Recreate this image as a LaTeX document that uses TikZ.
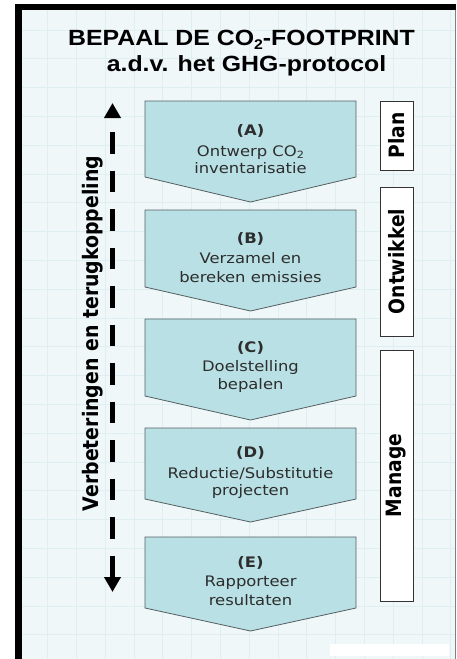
\documentclass[tikz,border=0pt]{standalone}
\usepackage{fontspec}
\usepackage{graphicx}
\setmainfont{DejaVu Sans}[FakeStretch=1.13]
\newfontfamily\titlefont{Liberation Sans}[FakeStretch=1.13]
\newfontfamily\labelfont{DejaVu Sans}
\usetikzlibrary{arrows.meta}
\definecolor{bgc}{RGB}{239,247,249}
\definecolor{gridc}{RGB}{222,238,242}
\definecolor{boxfill}{RGB}{185,224,228}
\definecolor{boxline}{RGB}{85,95,98}
\definecolor{txtc}{RGB}{45,45,45}
\newcommand{\subtwo}[1]{\raisebox{-0.35ex}{\fontsize{#1}{#1}\selectfont 2}}
\begin{document}
\begin{tikzpicture}[x=1pt,y=-1pt,
  stepshape/.style={fill=boxfill,draw=boxline,line width=0.8pt,line join=miter},
  boxtxt/.style={anchor=base,inner sep=0pt,text=txtc,font=\fontsize{14.5}{17}\selectfont},
  boxhead/.style={anchor=base,inner sep=0pt,text=txtc,font=\bfseries\fontsize{14.5}{17}\selectfont},
  phasebox/.style={draw=black!80,fill=white,line width=0.9pt,rotate=90,inner sep=0pt,minimum height=33pt,
    font=\labelfont\bfseries\fontsize{18.7}{20}\selectfont},
  titletxt/.style={anchor=base,inner sep=0pt,font=\titlefont\bfseries\fontsize{22}{26}\selectfont}]
\useasboundingbox (0,0) rectangle (456,659);
\fill[white] (0,0) rectangle (456,659);
\fill[bgc] (22,10) rectangle (455,659);
% grid
\foreach \k in {1,...,15} {\draw[gridc,line width=0.5pt] ({18.7+28.8*\k},10) -- ({18.7+28.8*\k},659);}
\foreach \k in {1,...,22} {\draw[gridc,line width=0.5pt] (22,{1+28.8*\k}) -- (455,{1+28.8*\k});}
% frame
\fill[black] (15,4) rectangle (22,659);
\fill[black] (15,4) rectangle (456,10);
\draw[gray,line width=0.8pt] (455,10) -- (455,659);
\fill[white] (330,644) rectangle (449,656);
% title
\node[titletxt] (t1) at (241.5,45) {BEPAAL DE CO\subtwo{14}-FOOTPRINT};
\node[titletxt] (t2) at (246.5,71) {a.d.v. het GHG-protocol};
% steps
\path[stepshape] (145,101) -- (356,101) -- (356,177) -- (250.5,202) -- (145,177) -- cycle;
\path[stepshape] (145,210) -- (356,210) -- (356,287) -- (250.5,311) -- (145,287) -- cycle;
\path[stepshape] (145,319) -- (356,319) -- (356,396) -- (250.5,420) -- (145,396) -- cycle;
\path[stepshape] (145,428) -- (356,428) -- (356,499) -- (250.5,522) -- (145,499) -- cycle;
\path[stepshape] (145,537) -- (356,537) -- (356,608) -- (250.5,631) -- (145,608) -- cycle;
\node[boxhead] (a0) at (250.5,135) {(A)};
\node[boxtxt] (a1) at (250.5,156) {Ontwerp CO\subtwo{10}};
\node[boxtxt] (a2) at (250.5,173) {inventarisatie};
\node[boxhead] (b0) at (250.5,243) {(B)};
\node[boxtxt] (b1) at (250.5,263) {Verzamel en};
\node[boxtxt] (b2) at (250.5,282) {bereken emissies};
\node[boxhead] (c0) at (250.5,352) {(C)};
\node[boxtxt] (c1) at (250.5,371) {Doelstelling};
\node[boxtxt] (c2) at (250.5,389.5) {bepalen};
\node[boxhead] (d0) at (250.5,457) {(D)};
\node[boxtxt] (d1) at (250.5,478) {Reductie/Substitutie};
\node[boxtxt] (d2) at (250.5,495.5) {projecten};
\node[boxhead] (e0) at (250.5,567) {(E)};
\node[boxtxt] (e1) at (250.5,586.5) {Rapporteer};
\node[boxtxt] (e2) at (250.5,605.5) {resultaten};
% phase labels
\node[phasebox,minimum width=69pt] (plan) at (396.5,135.5) {\scalebox{1}[1.13]{Plan}};
\node[phasebox,minimum width=149pt] (ontw) at (396.5,261.5) {\scalebox{1}[1.13]{Ontwikkel}};
\node[phasebox,minimum width=251pt] (manage) at (396.5,475.5) {\scalebox{1}[1.13]{Manage}};
% feedback arrow
\coordinate (fbtop) at (112.5,103);
\coordinate (fbbot) at (112.5,592);
\draw[line width=5.5pt,dash pattern=on 21.5pt off 17pt,dash phase=23.5pt,
  {Triangle[width=16pt,length=15pt]}-{Triangle[width=16pt,length=15pt]}] (fbtop) -- (fbbot);
\node[rotate=90,inner sep=0pt,font=\labelfont\bfseries\fontsize{18.9}{20}\selectfont] (fb) at (93,333.5)
  {\scalebox{1}[1.13]{Verbeteringen en terugkoppeling}};
\end{tikzpicture}
\end{document}
